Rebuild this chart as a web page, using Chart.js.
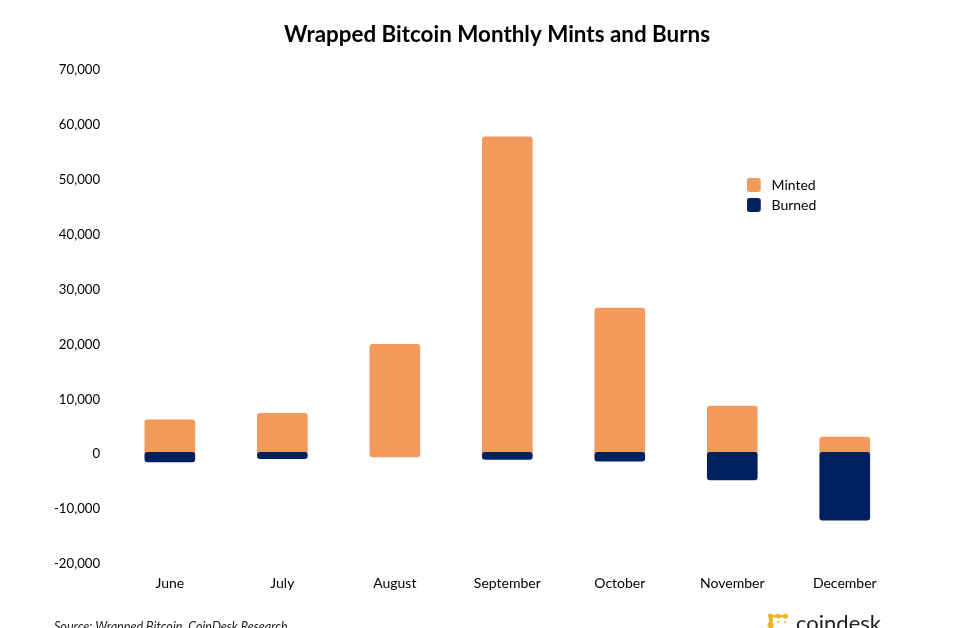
<!DOCTYPE html>
<html><head><meta charset="utf-8">
<script src="https://cdn.jsdelivr.net/npm/chart.js@4"></script>
<style>
html,body{margin:0;padding:0;background:#fff;overflow:hidden}
#wrap{position:relative;width:960px;height:628px;overflow:hidden}
#source{position:absolute;left:54px;top:619px;font:italic 12.6px Lato,sans-serif;color:#222;white-space:nowrap}
#logoText{position:absolute;left:796px;top:609px;font:400 22px Lato,sans-serif;color:#222;white-space:nowrap}
#logoMark{position:absolute;left:767px;top:612px}
</style></head><body>
<div id="wrap">
<canvas id="c" width="960" height="628"></canvas>
<div id="source">Source: Wrapped Bitcoin, CoinDesk Research</div>
<svg id="logoMark" width="24" height="16" fill="#f0b429"><path d="M2 3h18v2.6H6V16H2z"/><circle cx="3.5" cy="4" r="2.6"/><circle cx="11" cy="4" r="2.4"/><circle cx="18.5" cy="4" r="2.6"/><circle cx="3.5" cy="13" r="3"/><circle cx="11" cy="10" r="1"/><circle cx="18" cy="10" r="1"/></svg>
<div id="logoText">coindesk</div>
</div>
<script>
const categories = ['June','July','August','September','October','November','December'];
const minted = [6250, 7450, 20000, 57800, 26600, 8750, 3100];
const burned = [-1400, -800, null, -950, -1250, -4700, -12000];
const mintedBase = -500;
const burnedBase = 350;
const yMin = -20000, yMax = 70000, yStep = 10000;
const orange = '#F2995C', navy = '#00205F';
const FONT = 'Lato, sans-serif';

function swatch(color){
  const cv = document.createElement('canvas');
  cv.width = 18; cv.height = 14;
  const g = cv.getContext('2d');
  g.fillStyle = color;
  g.beginPath(); g.roundRect(0,0,14,14,3); g.fill();
  return cv;
}
const legendPlace = {
  id:'legendPlace',
  afterLayout(chart){
    const l = chart.legend;
    const w = l.width, h = l.height;
    l.left = 741; l.right = 741 + w; l.top = 172; l.bottom = 172 + h;
    chart.titleBlock.left = 34; chart.titleBlock.right = 960;
  }
};

new Chart(document.getElementById('c'),{
  type:'bar',
  data:{labels:categories,datasets:[
    {label:'Burned',data:burned,base:burnedBase,backgroundColor:navy,pointStyle:swatch(navy),order:0},
    {label:'Minted',data:minted,base:mintedBase,backgroundColor:orange,pointStyle:swatch(orange),order:1}
  ]},
  options:{
    responsive:false,animation:false,
    layout:{padding:{left:0,right:59,top:0,bottom:34}},
    datasets:{bar:{barThickness:50,borderRadius:3,borderSkipped:false}},
    scales:{
      x:{stacked:true,offset:true,grid:{display:false,drawTicks:false},border:{display:false},
         ticks:{color:'#000',font:{family:FONT,size:14},padding:11,maxRotation:0,autoSkip:false},
         afterFit(s){s.height=30;}},
      y:{min:yMin,max:yMax,stacked:false,grid:{display:false,drawTicks:false},border:{display:false},
         ticks:{stepSize:yStep,color:'#000',font:{family:FONT,size:13.2},padding:13.5,
                callback:v=>v.toLocaleString('en-US')},
         afterFit(s){s.width=113.6;}}
    },
    plugins:{
      title:{display:true,text:'Wrapped Bitcoin Monthly Mints and Burns',color:'#000',
             font:{family:FONT,size:22.4,weight:'bold',lineHeight:1.2},padding:{top:21,bottom:22}},
      legend:{position:'chartArea',align:'start',
        labels:{usePointStyle:true,pointStyleWidth:17.5,color:'#000',font:{family:FONT,size:14},padding:6,
                sort:(a,b)=>b.datasetIndex-a.datasetIndex}},
      tooltip:{enabled:false}
    }
  },
  plugins:[legendPlace]
});
</script>
</body></html>
